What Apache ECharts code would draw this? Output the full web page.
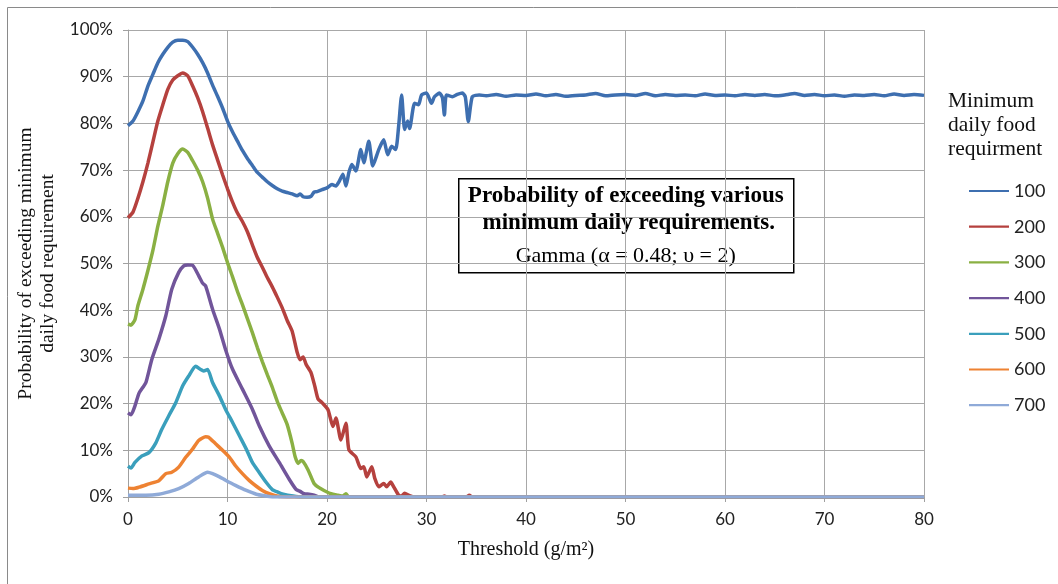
<!DOCTYPE html>
<html>
<head>
<meta charset="utf-8">
<script src="https://cdn.jsdelivr.net/npm/echarts@6/dist/echarts.min.js"></script>
<style>
html,body{margin:0;padding:0;background:#fff;}
#chart{width:1058px;height:584px;}
</style>
</head>
<body>
<div id="chart"></div>
<script>
// ---- data (x = threshold g/m², y = probability %) ----
const seriesNames = ['100','200','300','400','500','600','700'];
const xTicks = [0,10,20,30,40,50,60,70,80];
const yTicks = [0,10,20,30,40,50,60,70,80,90,100];

const s100 = [[0,79.5],[0.5,80.5],[1,82.5],[1.5,84.8],[2,88],[2.5,90.5],[3,93],[3.5,94.8],[4,96.3],[4.5,97.4],[5,97.8],[5.5,97.8],[6,97.5],[6.5,96.3],[7,94.8],[7.5,93],[8,90.8],[8.5,88.2],[9,85.8],[9.5,83.3],[10,80.5],[10.5,78.2],[11,76.2],[11.5,74.2],[12,72.5],[12.5,71],[13,69.5],[13.5,68.5],[14,67.5],[14.5,66.7],[15,66],[15.5,65.5],[16,65.2],[16.5,64.9],[17,64.5],[17.3,64.9],[17.6,64.3],[18,64.2],[18.4,64.4],[18.7,65.3],[19,65.4],[19.5,65.8],[20,66.2],[20.5,66.9],[20.9,66.6],[21.2,67.5],[21.6,69.1],[21.9,66.6],[22.2,69.5],[22.5,71.2],[22.9,69.8],[23.4,74.4],[23.7,71.6],[24.2,76.2],[24.6,70.9],[25.2,74.4],[25.7,76.5],[26.1,73.3],[26.5,75.1],[26.9,74.4],[27.2,79.4],[27.5,86.1],[27.8,78.7],[28.1,80.5],[28.3,78.9],[28.8,84.3],[29.2,84],[29.5,86.1],[30,86.5],[30.5,84.3],[30.8,85.7],[31.3,86.5],[31.6,85.5],[31.8,81.8],[32,86.1],[32.6,85.7],[33.1,86.2],[33.6,86.5],[33.9,85.7],[34.2,80.4],[34.6,85.7],[35.3,86.1],[36,85.9],[37,86.2],[38,85.8],[39,86.1],[40,86.0],[41,86.3],[42,85.9],[43,86.2],[44,85.8],[45,86.0],[46,86.1],[47,86.4],[48,85.9],[49,86.1],[50,86.2],[51,86.0],[52,86.4],[53,85.9],[54,86.2],[55,86.0],[56,86.1],[57,85.9],[58,86.3],[59,86.0],[60,86.1],[61,85.9],[62,86.2],[63,86.0],[64,86.2],[65,85.9],[66,86.1],[67,86.4],[68,86.0],[69,86.2],[70,85.9],[71,86.1],[72,85.8],[73,86.1],[74,86.0],[75,86.2],[76,85.9],[77,86.3],[78,86.0],[79,86.2],[80,86.0]];

const s200 = [[0,59.8],[0.5,61],[1,64],[1.5,67.5],[2,71.5],[2.5,76],[3,80.5],[3.5,84],[4,87.3],[4.5,89.3],[5,90.2],[5.5,90.8],[6,90.2],[6.5,88],[7,85.5],[7.5,82.5],[8,79],[8.5,75.4],[9,72.2],[9.5,69],[10,66],[10.5,63.2],[11,60.8],[11.5,59],[12,56.8],[12.5,54],[13,51.3],[13.5,49.2],[14,47],[14.5,45],[15,42.8],[15.5,40.5],[16,37.8],[16.5,35.5],[17,31],[17.3,29.4],[17.6,30],[17.9,28.4],[18.4,26.6],[18.8,23.5],[19.1,21],[19.5,20.2],[20.1,18.7],[20.6,15.1],[20.9,16.9],[21.4,12.2],[21.9,15.8],[22.2,10.1],[22.9,8.6],[23.4,6.1],[23.7,6.5],[24,4.3],[24.5,6.5],[24.8,4],[25.2,2.2],[25.7,2.9],[26,2.2],[26.4,3.2],[26.7,2.2],[27.2,0.4],[27.5,0.2],[27.8,0.8],[28.3,0.3],[28.8,0],[31.5,0],[31.8,0.2],[32.1,0],[34,0],[34.3,0.4],[34.6,0],[80,0]];

const s300 = [[0,37],[0.3,36.8],[0.7,38],[1,41],[1.5,44.5],[2,48.5],[2.5,52.8],[3,58],[3.5,62.5],[4,67.5],[4.5,71.5],[5,73.5],[5.5,74.5],[6,73.8],[6.5,72],[7,70],[7.5,67.5],[8,64],[8.5,59.5],[9,56.5],[9.5,53.5],[10,50.2],[10.5,47.2],[11,44],[11.5,41.2],[12,38.2],[12.5,35.2],[13,32],[13.5,29],[14,26.2],[14.5,23.5],[15,20.5],[15.5,18],[16,15.5],[16.5,11.5],[16.8,8.6],[17.1,7.2],[17.4,7.8],[17.6,7.6],[18.1,5.8],[18.7,2.9],[19.2,2],[19.7,1.4],[20.4,0.7],[21.1,0.4],[21.6,0.2],[21.9,0.7],[22.2,0],[80,0]];

const s400 = [[0,18],[0.3,17.6],[0.7,19.5],[1.1,22.2],[1.5,23.5],[1.8,24.5],[2.4,29.5],[3.1,33.8],[3.8,38.8],[4.4,44.5],[5.1,48.1],[5.6,49.5],[6,49.7],[6.5,49.6],[7.1,47.4],[7.5,45.8],[7.8,45.2],[8.5,40.2],[9.2,35.9],[9.8,31.6],[10.5,27.4],[11.5,23.1],[12.5,18.8],[13.2,15.2],[14.2,10.9],[15.2,7.4],[16.2,3.8],[16.9,1.6],[17.3,1.2],[17.7,0.7],[18.2,0.6],[18.7,0.4],[19.2,0],[80,0]];

const s500 = [[0,6.6],[0.3,6.2],[0.7,7.4],[1.4,8.8],[2.1,9.5],[2.8,11.6],[3.4,14.5],[4.1,17.4],[4.8,20.2],[5.5,23.8],[6.1,25.9],[6.8,28],[7.3,27.3],[7.6,27],[8,27.3],[8.5,24.5],[9.2,21.6],[9.8,18.8],[10.5,16],[11.2,13.1],[11.9,10.2],[12.5,7.4],[13.2,5.2],[13.9,3.1],[14.5,1.6],[15.1,1],[15.6,0.6],[16.6,0.2],[17.5,0],[80,0]];

const s600 = [[0,1.9],[0.5,1.8],[1.1,2.1],[2.1,2.8],[3.1,3.5],[3.8,5],[4.4,5.3],[5.1,6.4],[5.8,8.5],[6.5,10.3],[7.1,12.1],[7.8,12.9],[8.1,12.8],[8.8,11.4],[9.5,10],[10.2,8.5],[10.8,6.7],[11.5,5],[12.2,3.5],[12.9,2.3],[13.5,1.4],[14.2,0.7],[15.2,0.1],[16,0],[80,0]];

const s700 = [[0,0.4],[1.8,0.4],[3.1,0.6],[4.1,1.1],[5.1,1.8],[6.1,2.9],[7.1,4.3],[8,5.3],[8.5,5],[9.2,4.3],[9.8,3.6],[10.8,2.5],[11.9,1.4],[12.9,0.6],[13.9,0.2],[14.5,0],[80,0]];

const allData = [s100,s200,s300,s400,s500,s600,s700];
const colors = ['#3E6FB0','#B5413E','#8AB043','#71559A','#3A9FBC','#EE8232','#8FAAD8'];

const chart = echarts.init(document.getElementById('chart'), null, {renderer:'canvas'});
const sans = 'Lato';
const serif = '"Liberation Serif", "DejaVu Serif", serif';

chart.setOption({
  animation:false,
  backgroundColor:'#fff',
  color: colors,
  grid:{left:128, right:134, top:30, bottom:87, containLabel:false, outerBoundsMode:'none'},
  xAxis:{
    type:'value', min:0, max:80, interval:10,
    name:'Threshold (g/m²)', nameLocation:'middle', nameGap:43,
    nameTextStyle:{fontFamily:serif, fontSize:20, color:'#111'},
    axisLine:{show:true, lineStyle:{color:'#a0a0a0', width:1}},
    axisTick:{show:true, length:5, lineStyle:{color:'#a0a0a0'}},
    axisLabel:{fontFamily:sans, fontSize:17, color:'#222', margin:14,
      formatter: v => xTicks.includes(v) ? String(v) : ''},
    splitLine:{show:true, lineStyle:{color:'#a8a8a8', width:1}}
  },
  yAxis:{
    type:'value', min:0, max:100, interval:10,
    name:'Probability of exceeding minimum\ndaily food requirement',
    nameLocation:'middle', nameGap:62, nameRotate:90,
    nameTextStyle:{fontFamily:serif, fontSize:19.5, color:'#111', lineHeight:22},
    axisLine:{show:true, lineStyle:{color:'#a0a0a0', width:1}},
    axisTick:{show:true, length:5, lineStyle:{color:'#a0a0a0'}},
    axisLabel:{fontFamily:sans, fontSize:17, color:'#222', margin:15,
      formatter: v => yTicks.includes(v) ? v + '%' : ''},
    splitLine:{show:true, lineStyle:{color:'#a8a8a8', width:1}}
  },
  legend:{
    orient:'vertical', left:964, top:177,
    itemWidth:40, itemHeight:14, itemGap:17.7,
    icon:'path://M0,6 L40,6 L40,8.2 L0,8.2 Z',
    textStyle:{fontFamily:sans, fontSize:18, color:'#222'},
    data: seriesNames
  },
  graphic:[
    {type:'rect', shape:{x:7.5, y:7.5, width:1100, height:640}, style:{fill:'none', stroke:'#8a8a8a', lineWidth:1}, silent:true},
    {type:'group', left:458, top:178, children:[
      {type:'rect', shape:{x:0,y:0,width:335,height:94}, style:{fill:'#fff', stroke:'#000', lineWidth:1.5}},
      {type:'text', x:167, y:6, style:{text:'Probability of exceeding various', fontFamily:serif, fontWeight:'bold', fontSize:23, fill:'#000', textAlign:'center'}},
      {type:'text', x:170, y:33, style:{text:'minimum daily requirements.', fontFamily:serif, fontWeight:'bold', fontSize:23, fill:'#000', textAlign:'center'}},
      {type:'text', x:167, y:66, style:{text:'Gamma (α = 0.48; υ = 2)', fontFamily:serif, fontSize:22, fill:'#000', textAlign:'center'}}
    ]},
    {type:'text', left:948, top:89, style:{text:'Minimum\ndaily food\nrequirment', fontFamily:serif, fontSize:21.5, lineHeight:24, fill:'#111'}}
  ],
  series: allData.map((d,i)=>({
    name: seriesNames[i], type:'line', data:d, showSymbol:false, symbol:'none',
    smooth:0.2, lineStyle:{width:3.5, color:colors[i]}, itemStyle:{color:colors[i]},
    z: 2+i
  }))
});
</script>
</body>
</html>
